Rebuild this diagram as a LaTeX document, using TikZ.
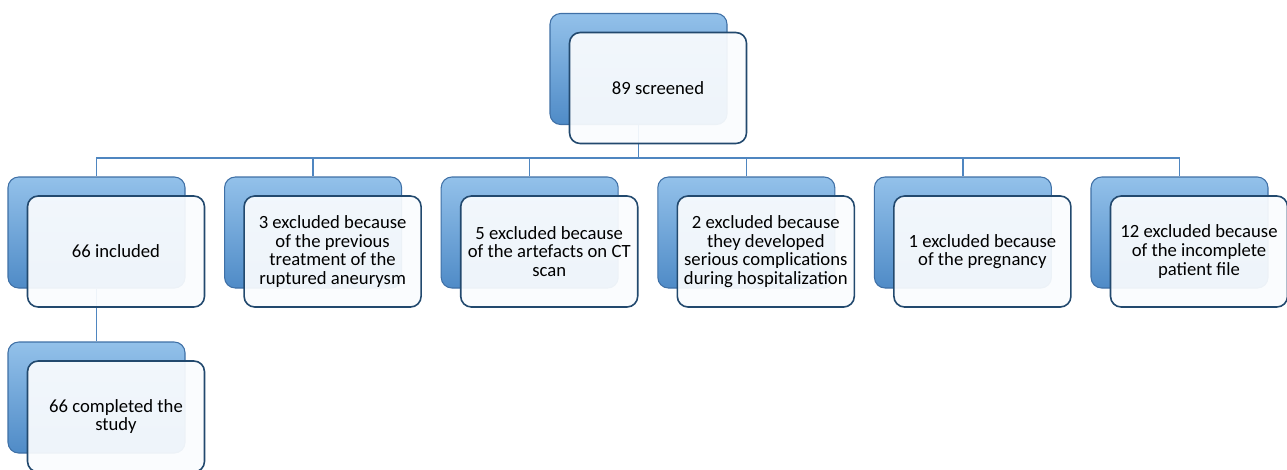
\documentclass[tikz,border=0pt]{standalone}
\usepackage{fontspec}
\setmainfont{Carlito}
\usetikzlibrary{positioning}
\definecolor{skyblue}{HTML}{93C1EA}
\definecolor{midblue}{HTML}{4F8BC7}
\definecolor{edgeblue}{HTML}{3F70A6}
\definecolor{navy}{HTML}{22496E}
\definecolor{linkblue}{HTML}{4F86C0}
\definecolor{paper}{HTML}{FAFCFE}

\begin{document}
\begin{tikzpicture}[
  x=0.75pt, y=-0.75pt,
  backbox/.style={rectangle, rounded corners=8pt,
    minimum width=132.75pt, minimum height=83.25pt,
    top color=skyblue, bottom color=midblue, draw=edgeblue, line width=0.8pt},
  frontbox/.style={rectangle, rounded corners=8pt,
    minimum width=132.75pt, minimum height=83.25pt,
    fill=paper, fill opacity=0.93, text opacity=1, draw=navy, line width=1.2pt,
    align=center, text=black, font=\fontsize{14}{13.9}\selectfont},
  link/.style={linkblue, line width=1.1pt},
]

% Page
\useasboundingbox (0,0) rectangle (1287,469);

% =============================================
% Back boxes
% =============================================

\node[backbox] (screenB) at (638.5,69) {};

\node[backbox] (inclB) at (96.5,232.5) {};
\node[backbox] (prevB) at (313.1,232.5) {};
\node[backbox] (artB) at (529.7,232.5) {};
\node[backbox] (compB) at (746.3,232.5) {};
\node[backbox] (pregB) at (962.9,232.5) {};
\node[backbox] (fileB) at (1179.5,232.5) {};

\node[backbox] (doneB) at (96.5,397.5) {};

% =============================================
% Connectors
% =============================================

\coordinate (bus) at (638.5,158);
\draw[link] (screenB.south) -- (bus);
\draw[link] (bus) -| (inclB.north);
\draw[link] (bus) -| (prevB.north);
\draw[link] (bus) -| (artB.north);
\draw[link] (bus) -| (compB.north);
\draw[link] (bus) -| (pregB.north);
\draw[link] (bus) -| (fileB.north);

\draw[link] (inclB.south) -- (doneB.north);

% =============================================
% Front boxes with the texts
% =============================================

\node[frontbox] (screen) at ([shift={(19.5,19)}]screenB.center)
  {89 screened};

\node[frontbox] (incl) at ([shift={(19.5,19)}]inclB.center)
  {66 included};
\node[frontbox] (prev) at ([shift={(19.5,19)}]prevB.center)
  {3 excluded because\\of the previous\\treatment of the\\ruptured aneurysm};
\node[frontbox] (art) at ([shift={(19.5,19)}]artB.center)
  {5 excluded because\\of the artefacts on CT\\scan};
\node[frontbox] (comp) at ([shift={(19.5,19)}]compB.center)
  {2 excluded because\\they developed\\serious complications\\during hospitalization};
\node[frontbox] (preg) at ([shift={(19.5,19)}]pregB.center)
  {1 excluded because\\of the pregnancy};
\node[frontbox] (file) at ([shift={(19.5,19)}]fileB.center)
  {12 excluded because\\of the incomplete\\patient file};

\node[frontbox] (done) at ([shift={(19.5,19)}]doneB.center)
  {66 completed the\\study};

\end{tikzpicture}
\end{document}
